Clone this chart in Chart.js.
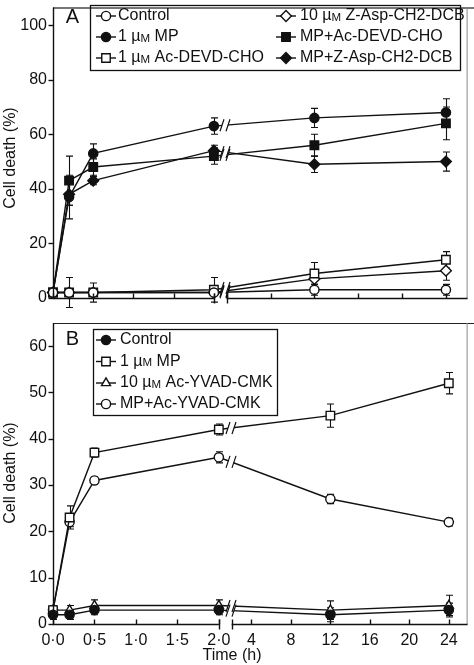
<!DOCTYPE html>
<html><head><meta charset="utf-8">
<script src="https://cdn.jsdelivr.net/npm/chart.js@4/dist/chart.umd.min.js"></script>
<style>
html,body{margin:0;padding:0;background:#fff;}
#wrap{position:relative;width:474px;height:665px;overflow:hidden;background:#fff;}
canvas{position:absolute;left:0;}
</style></head><body>
<div id="wrap">
<canvas id="ca" width="474" height="310" style="top:0px"></canvas>
<canvas id="cb" width="474" height="355" style="top:310px"></canvas>
</div>
<script>
// ---------- data ----------
const timesH = [0, 0.2, 0.5, 2, 12, 24];

// Panel A
const labelsA = ['Control', '1 µM MP', '1 µM Ac-DEVD-CHO', '10 µM Z-Asp-CH2-DCB', 'MP+Ac-DEVD-CHO', 'MP+Z-Asp-CH2-DCB'];
const controlA = [2, 2, 2, 2, 3, 3];
const mpA      = [2, 37, 53, 63, 66, 68];
const devdA    = [2, 2, 2, 3, 9, 14];
const zaspA    = [2, 2, 2, 2, 7, 10];
const mpDevdA  = [2, 43, 48, 52, 56, 64];
const mpZaspA  = [2, 38, 43, 54, 49, 50];
const errControlA = [0.5, 5.5, 3.5, 1, 2, 2];
const errMpA      = [1, 8, 3.5, 3, 3.5, 5];
const errDevdA    = [0.5, 1, 1, 4.5, 4, 3];
const errZaspA    = [0.5, 1, 1, 1, 3, 3.5];
const errMpDevdA  = [1, 9, 3, 3, 4, 6];
const errMpZaspA  = [1, 4, 1.5, 2, 3, 3.5];
const yTicksA = [0, 20, 40, 60, 80, 100];

// Panel B
const labelsB = ['Control', '1 µM MP', '10 µM Ac-YVAD-CMK', 'MP+Ac-YVAD-CMK'];
const controlB = [2, 2, 3, 3, 2, 3];
const mpB      = [3, 23, 37, 42, 45, 52];
const yvadB    = [3, 3, 4, 4, 3, 4];
const mpYvadB  = [3, 22, 31, 36, 27, 22];
const errControlB = [1, 1, 1, 1, 1.5, 1.5];
const errMpB      = [1, 2.5, 1, 1.2, 2.5, 2.3];
const errYvadB    = [1, 1, 1.2, 1.2, 2, 2.2];
const errMpYvadB  = [1, 1, 0.8, 1.2, 1, 0.8];
const yTicksB = [0, 10, 20, 30, 40, 50, 60];

// x axis ticks (shared)
const xTickValues = [0, 0.5, 1, 1.5, 2, 4, 8, 12, 16, 20, 24];
const xTickLabels = ['0·0', '0·5', '1·0', '1·5', '2·0', '4', '8', '12', '16', '20', '24'];

const FONT = '"Liberation Sans", Arial, Helvetica, sans-serif';
const INK = '#111';
const LW = 1.4;

// ---------- broken x scale ----------
class BrokenAxis extends Chart.LinearScale {
  brk() { return this.options.brk; }
  leftFrac(v) { const b = this.brk(); return b.l0 + (v - b.lv0) / (b.lv1 - b.lv0) * (b.l1 - b.l0); }
  rightFrac(v) { const b = this.brk(); return b.r0 + (v - b.rv0) / (b.rv1 - b.rv0) * (b.r1 - b.r0); }
  rightPx(v) { return this.left + this.rightFrac(v) * this.width; }
  getPixelForValue(v) {
    const b = this.brk();
    const f = v <= b.split ? this.leftFrac(v) : this.rightFrac(v);
    return this.left + f * this.width;
  }
  getValueForPixel(p) {
    const b = this.brk();
    const f = (p - this.left) / this.width;
    if (f <= b.l1) return b.lv0 + (f - b.l0) / (b.l1 - b.l0) * (b.lv1 - b.lv0);
    return b.rv0 + (f - b.r0) / (b.r1 - b.r0) * (b.rv1 - b.rv0);
  }
}
BrokenAxis.id = 'brokenAxis';
BrokenAxis.defaults = Chart.LinearScale.defaults;
Chart.register(BrokenAxis);

// ---------- helpers ----------
function drawMarker(ctx, ds, x, y) {
  ctx.save();
  ctx.lineWidth = LW;
  ctx.strokeStyle = INK;
  ctx.fillStyle = ds.pointBackgroundColor;
  Chart.helpers.drawPoint(ctx, {pointStyle: ds.pointStyle, radius: ds.pointRadius, rotation: 0, borderWidth: LW}, x, y);
  ctx.restore();
}
function drawLabel(ctx, text, x, y) {
  const parts = text.split('µM');
  let cx = x;
  ctx.textAlign = 'left';
  ctx.textBaseline = 'middle';
  parts.forEach((p, i) => {
    ctx.font = '16px ' + FONT;
    ctx.fillText(p, cx, y); cx += ctx.measureText(p).width;
    if (i < parts.length - 1) {
      ctx.fillText('µ', cx, y); cx += ctx.measureText('µ').width;
      ctx.font = '11.5px ' + FONT;
      ctx.fillText('M', cx, y + 1.6); cx += ctx.measureText('M').width;
    }
  });
}

const deco = {
  id: 'deco',
  beforeDatasetsDraw(chart) {
    const {ctx, scales: {x, y}} = chart;
    ctx.save();
    ctx.strokeStyle = INK; ctx.lineWidth = 1.1;
    chart.data.datasets.forEach(ds => {
      ds.data.forEach((pt, i) => {
        const e = ds.errors[i];
        const px = Math.round(x.getPixelForValue(pt.x)) + 0.5;
        const y1 = y.getPixelForValue(pt.y + e), y2 = y.getPixelForValue(pt.y - e);
        ctx.beginPath();
        ctx.moveTo(px, y1); ctx.lineTo(px, y2);
        ctx.moveTo(px - 3.5, y1); ctx.lineTo(px + 3.5, y1);
        ctx.moveTo(px - 3.5, y2); ctx.lineTo(px + 3.5, y2);
        ctx.stroke();
      });
    });
    ctx.restore();
  },
  afterDatasetsDraw(chart) {
    const cfg = chart.$deco;
    const {ctx, scales: {x, y}} = chart;
    const xb = cfg.breakX;
    const ys = chart.data.datasets.map(ds => {
      const a = ds.data[3], b = ds.data[4];
      const xa = x.getPixelForValue(a.x), xc = x.getPixelForValue(b.x);
      const ya = y.getPixelForValue(a.y), yc = y.getPixelForValue(b.y);
      return ya + (xb - xa) / (xc - xa) * (yc - ya);
    });
    ctx.save();
    ctx.fillStyle = '#fff';
    ys.forEach(yy => {
      ctx.beginPath();
      ctx.moveTo(xb - 5, yy + 6); ctx.lineTo(xb - 1, yy - 6);
      ctx.lineTo(xb + 5, yy - 6); ctx.lineTo(xb + 1, yy + 6);
      ctx.closePath(); ctx.fill();
    });
    ctx.strokeStyle = INK; ctx.lineWidth = 1.2;
    ys.forEach(yy => {
      ctx.beginPath();
      ctx.moveTo(xb - 5, yy + 6); ctx.lineTo(xb - 1, yy - 6);
      ctx.moveTo(xb + 1, yy + 6); ctx.lineTo(xb + 5, yy - 6);
      ctx.stroke();
    });
    ctx.restore();
  },
  afterDraw(chart) {
    const cfg = chart.$deco;
    const {ctx, chartArea: ca, scales: {x, y}} = chart;
    ctx.save();
    // frame (top and right)
    ctx.strokeStyle = cfg.frameColor; ctx.lineWidth = cfg.frameWidth;
    ctx.beginPath();
    ctx.moveTo(ca.left, ca.top + 0.5); ctx.lineTo(chart.width, ca.top + 0.5);
    ctx.stroke();
    ctx.strokeStyle = '#888'; ctx.lineWidth = 1;
    ctx.beginPath(); ctx.moveTo(ca.right + 0.5, ca.top); ctx.lineTo(ca.right + 0.5, ca.bottom); ctx.stroke();

    ctx.strokeStyle = INK; ctx.lineWidth = LW;
    // y axis
    const yl = ca.left + 0.5;
    ctx.beginPath(); ctx.moveTo(yl, ca.top); ctx.lineTo(yl, ca.bottom + 0.6); ctx.stroke();
    y.ticks.forEach(t => {
      const py = Math.round(y.getPixelForValue(t.value)) + 0.5;
      ctx.beginPath(); ctx.moveTo(yl - 5, py); ctx.lineTo(yl, py); ctx.stroke();
    });
    // x axis (broken)
    const xaY = ca.bottom + 0.5;
    const leftEnd = x.getPixelForValue(2);
    const rightStart = x.rightPx(cfg.rightStartValue);
    ctx.beginPath();
    ctx.moveTo(ca.left, xaY); ctx.lineTo(leftEnd, xaY);
    ctx.moveTo(rightStart, xaY); ctx.lineTo(ca.right + 1, xaY);
    ctx.stroke();
    x.ticks.forEach(t => {
      const px = Math.round(x.getPixelForValue(t.value)) + 0.5;
      ctx.beginPath(); ctx.moveTo(px, xaY); ctx.lineTo(px, xaY - 5); ctx.stroke();
    });
    [leftEnd, rightStart].forEach(p => {
      const px = Math.round(p) + 0.5;
      ctx.beginPath(); ctx.moveTo(px, xaY - 5); ctx.lineTo(px, xaY + 5); ctx.stroke();
    });

    // legend
    const lg = cfg.legend;
    ctx.lineWidth = 1.3; ctx.strokeStyle = INK;
    ctx.strokeRect(lg.box[0] + 0.5, lg.box[1] + 0.5, lg.box[2], lg.box[3]);
    chart.data.datasets.forEach((ds, i) => {
      const col = Math.floor(i / lg.rows), row = i % lg.rows;
      const mx = lg.markerX[col], ty = lg.rowY[row];
      ctx.strokeStyle = INK; ctx.lineWidth = LW;
      ctx.beginPath(); ctx.moveTo(mx - 10, ty); ctx.lineTo(mx + 10, ty); ctx.stroke();
      drawMarker(ctx, ds, mx, ty);
      ctx.fillStyle = INK;
      drawLabel(ctx, ds.label, lg.textX[col], ty);
    });

    // panel letter
    ctx.fillStyle = INK;
    ctx.font = '20px ' + FONT;
    ctx.textAlign = 'center'; ctx.textBaseline = 'alphabetic';
    ctx.fillText(cfg.letter, cfg.letterX, cfg.letterY);

    // y title
    ctx.font = '16px ' + FONT;
    ctx.save();
    ctx.translate(cfg.yTitleX, cfg.yTitleY);
    ctx.rotate(-Math.PI / 2);
    ctx.textAlign = 'center'; ctx.textBaseline = 'middle';
    ctx.fillText('Cell death (%)', 0, 0);
    ctx.restore();
    // x title
    if (cfg.xTitle) {
      ctx.textAlign = 'center'; ctx.textBaseline = 'middle';
      ctx.fillText(cfg.xTitle, cfg.xTitleX, cfg.xTitleY);
    }
    ctx.restore();
  }
};

function series(label, vals, errs, style, filled, radius) {
  return {
    label, errors: errs,
    data: timesH.map((t, i) => ({x: t, y: vals[i]})),
    borderColor: INK, borderWidth: LW,
    pointStyle: style, pointRadius: radius,
    pointBackgroundColor: filled ? INK : '#fff',
    pointBorderColor: INK, pointBorderWidth: LW,
    tension: 0, clip: false, fill: false
  };
}

function makeChart(id, datasets, c) {
  const chart = new Chart(document.getElementById(id), {
    type: 'line',
    data: {datasets},
    options: {
      responsive: false, animation: false, events: [],
      layout: {padding: {left: 0, right: 2, top: c.padTop, bottom: 0}},
      plugins: {legend: {display: false}, tooltip: {enabled: false}, title: {display: false}},
      scales: {
        x: {
          type: 'brokenAxis', min: 0, max: 25.9, brk: c.brk,
          grid: {display: false, drawTicks: false}, border: {display: false},
          ticks: {display: c.showXLabels, autoSkip: false, maxRotation: 0, minRotation: 0, padding: 9,
                  color: INK, font: {family: FONT, size: 16, lineHeight: 1},
                  callback: (v, i) => xTickLabels[i]},
          afterBuildTicks: s => { s.ticks = xTickValues.map(v => ({value: v})); },
          afterFit: s => { s.height = c.xAxisH; s.paddingLeft = 0; s.paddingRight = 0; }
        },
        y: {
          min: 0, max: c.yMax,
          grid: {display: false, drawTicks: false}, border: {display: false},
          ticks: {padding: 6, color: INK, font: {family: FONT, size: 16, lineHeight: 1},
                  callback: v => String(v)},
          afterBuildTicks: s => { s.ticks = c.yTicks.map(v => ({value: v})); },
          afterFit: s => { s.width = 53; s.paddingTop = 0; s.paddingBottom = 0; }
        }
      }
    },
    plugins: [{id: 'cfg', beforeInit(ch) { ch.$deco = c.deco; }}, deco]
  });
  return chart;
}

// Panel A
makeChart('ca', [
  series(labelsA[0], controlA, errControlA, 'circle', false, 4.6),
  series(labelsA[1], mpA, errMpA, 'circle', true, 4.6),
  series(labelsA[2], devdA, errDevdA, 'rect', false, 6),
  series(labelsA[3], zaspA, errZaspA, 'rectRot', false, 5.4),
  series(labelsA[4], mpDevdA, errMpDevdA, 'rect', true, 6),
  series(labelsA[5], mpZaspA, errMpZaspA, 'rectRot', true, 5.4)
], {
  padTop: 1, xAxisH: 12, yMax: 106.5, yTicks: yTicksA, showXLabels: false,
  brk: {split: 3, lv0: 0, lv1: 2, l0: 0, l1: 0.389, rv0: 4, rv1: 24, r0: 0.420, r1: 0.950},
  deco: {
    breakX: 225, rightStartValue: 4, frameColor: '#777', frameWidth: 2,
    legend: {rows: 3, box: [90, 5, 370, 65], markerX: [106, 286], textX: [118, 300], rowY: [16, 37, 58]},
    letter: 'A', letterX: 72.5, letterY: 23,
    yTitleX: 11, yTitleY: 158, xTitle: null
  }
});

// Panel B
makeChart('cb', [
  series(labelsB[0], controlB, errControlB, 'circle', true, 4.6),
  series(labelsB[1], mpB, errMpB, 'rect', false, 6),
  series(labelsB[2], yvadB, errYvadB, 'triangle', false, 5.2),
  series(labelsB[3], mpYvadB, errMpYvadB, 'circle', false, 4.6)
], {
  padTop: 13, xAxisH: 41, yMax: 65, yTicks: yTicksB, showXLabels: true,
  brk: {split: 3, lv0: 0, lv1: 2, l0: 0, l1: 0.401, rv0: 4, rv1: 24, r0: 0.4797, r1: 0.957},
  deco: {
    breakX: 231, rightStartValue: 2, frameColor: '#222', frameWidth: 1.2,
    legend: {rows: 4, box: [93, 19, 184, 86], markerX: [106], textX: [120], rowY: [30, 51.5, 73, 94]},
    letter: 'B', letterX: 72.5, letterY: 35,
    yTitleX: 11, yTitleY: 163, xTitle: 'Time (h)', xTitleX: 232, xTitleY: 346
  }
});
</script>
</body></html>
